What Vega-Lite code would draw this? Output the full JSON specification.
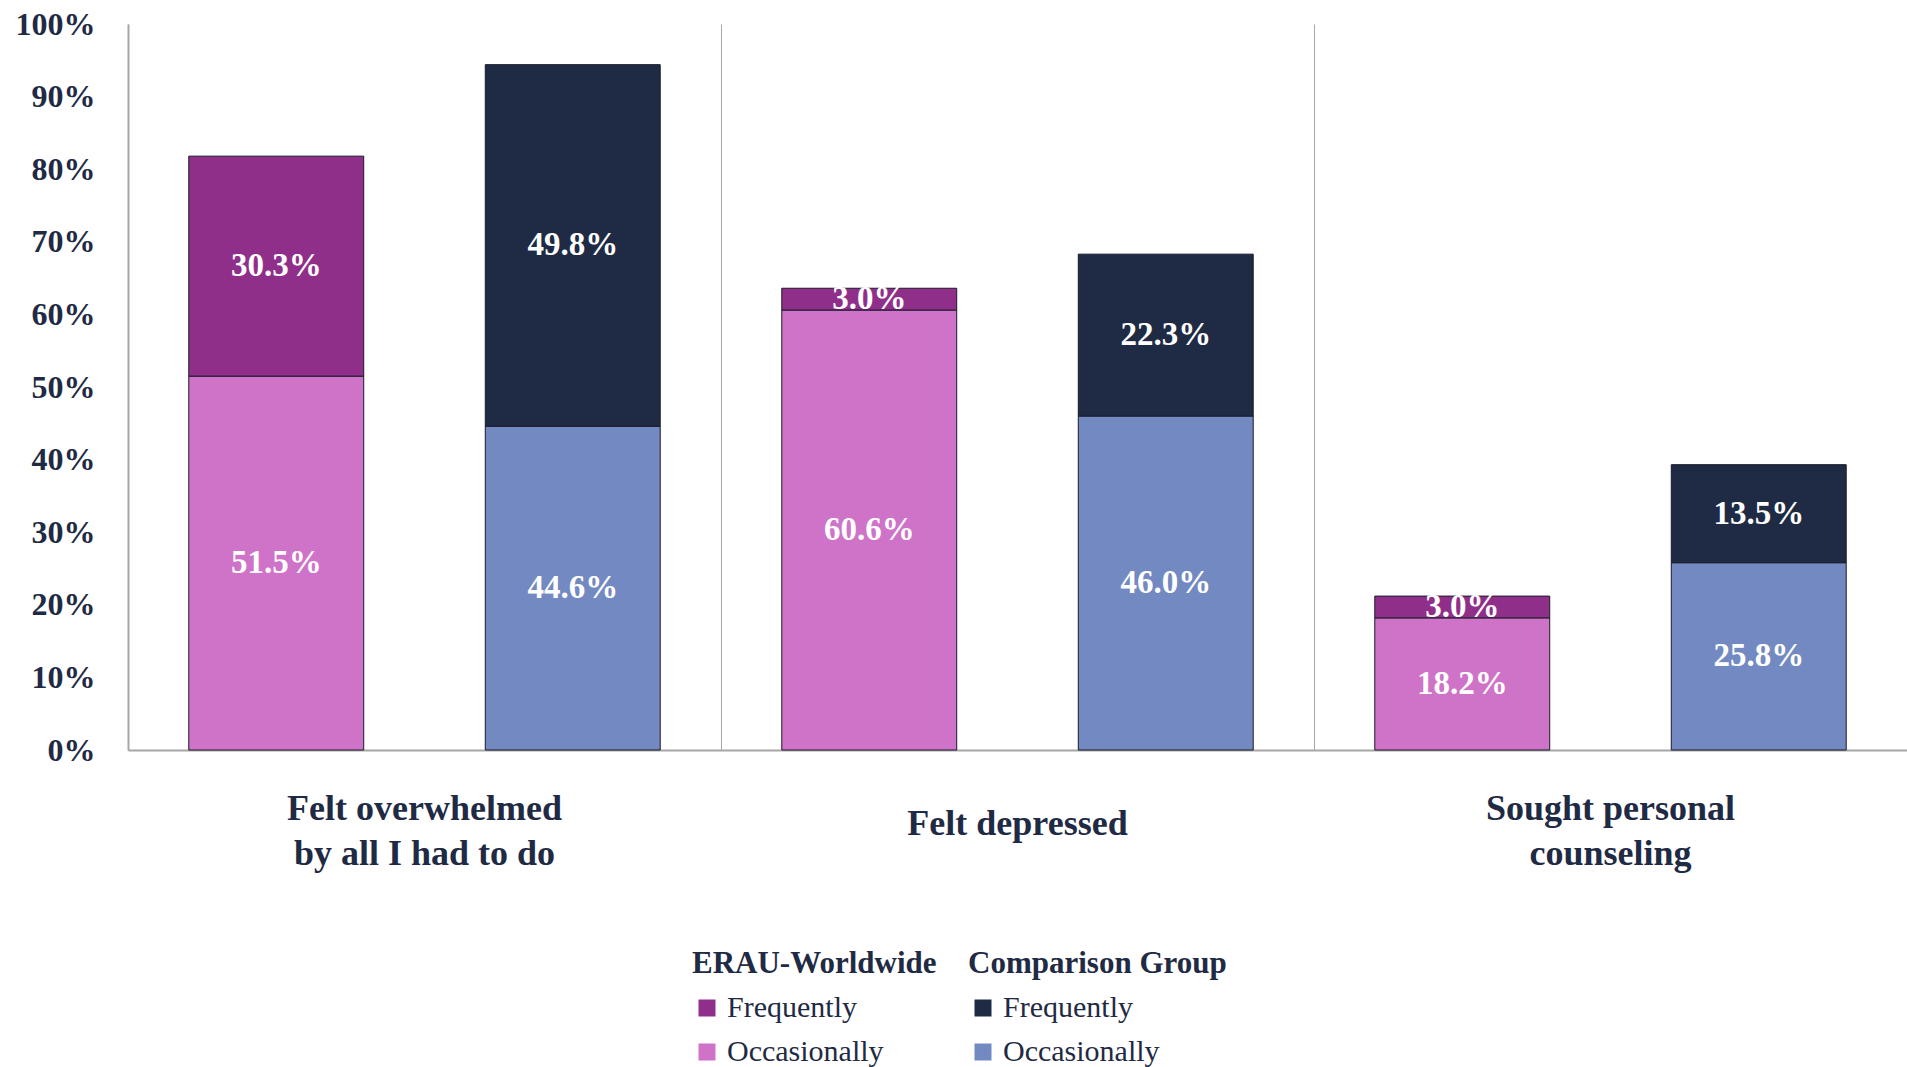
{
  "$schema": "https://vega.github.io/schema/vega-lite/v6.json",
  "width": 1779,
  "height": 726,
  "autosize": {"type": "none"},
  "padding": {"left": 128, "top": 24, "right": 0, "bottom": 317},
  "background": "white",
  "config": {
    "view": {"stroke": null},
    "font": "Liberation Serif",
    "axis": {"labelColor": "#1F2A44", "titleColor": "#1F2A44"},
    "legend": {"labelColor": "#1F2A44", "titleColor": "#1F2A44"}
  },
  "data": {
    "values": [
      {"cat": "Felt overwhelmed by all I had to do", "group": "ERAU-Worldwide", "level": "Occasionally", "series": "ERAU-Worldwide | Occasionally", "value": 0.515},
      {"cat": "Felt overwhelmed by all I had to do", "group": "ERAU-Worldwide", "level": "Frequently", "series": "ERAU-Worldwide | Frequently", "value": 0.303},
      {"cat": "Felt overwhelmed by all I had to do", "group": "Comparison Group", "level": "Occasionally", "series": "Comparison Group | Occasionally", "value": 0.446},
      {"cat": "Felt overwhelmed by all I had to do", "group": "Comparison Group", "level": "Frequently", "series": "Comparison Group | Frequently", "value": 0.498},
      {"cat": "Felt depressed", "group": "ERAU-Worldwide", "level": "Occasionally", "series": "ERAU-Worldwide | Occasionally", "value": 0.606},
      {"cat": "Felt depressed", "group": "ERAU-Worldwide", "level": "Frequently", "series": "ERAU-Worldwide | Frequently", "value": 0.030},
      {"cat": "Felt depressed", "group": "Comparison Group", "level": "Occasionally", "series": "Comparison Group | Occasionally", "value": 0.460},
      {"cat": "Felt depressed", "group": "Comparison Group", "level": "Frequently", "series": "Comparison Group | Frequently", "value": 0.223},
      {"cat": "Sought personal counseling", "group": "ERAU-Worldwide", "level": "Occasionally", "series": "ERAU-Worldwide | Occasionally", "value": 0.182},
      {"cat": "Sought personal counseling", "group": "ERAU-Worldwide", "level": "Frequently", "series": "ERAU-Worldwide | Frequently", "value": 0.030},
      {"cat": "Sought personal counseling", "group": "Comparison Group", "level": "Occasionally", "series": "Comparison Group | Occasionally", "value": 0.258},
      {"cat": "Sought personal counseling", "group": "Comparison Group", "level": "Frequently", "series": "Comparison Group | Frequently", "value": 0.135}
    ]
  },
  "transform": [
    {"stack": "value", "groupby": ["cat", "group"], "sort": [{"field": "level", "order": "descending"}], "as": ["y0", "y1"]},
    {"calculate": "(datum.y0 + datum.y1) / 2", "as": "ymid"}
  ],
  "encoding": {
    "x": {
      "field": "cat", "type": "nominal", "sort": null, "title": null,
      "scale": {"paddingInner": 0, "paddingOuter": 0},
      "axis": {
        "labelAngle": 0, "ticks": false, "tickSize": 0, "domainColor": "#A6A6A6", "domainWidth": 2,
        "grid": true, "gridColor": "#A6A6A6", "gridWidth": 1, "bandPosition": 0,
        "labelFontSize": 36, "labelFontWeight": "bold", "labelLineHeight": 45, "labelLimit": 0,
        "labelBaseline": "middle",
        "labelPadding": {"condition": {"test": "datum.value == 'Felt depressed'", "value": 73}, "value": 58},
        "labelExpr": "datum.value == 'Felt overwhelmed by all I had to do' ? ['Felt overwhelmed', 'by all I had to do'] : datum.value == 'Sought personal counseling' ? ['Sought personal', 'counseling'] : datum.value"
      }
    },
    "xOffset": {
      "field": "group", "type": "nominal",
      "scale": {"domain": ["ERAU-Worldwide", "Comparison Group"], "paddingInner": 0.41, "paddingOuter": 0.205}
    }
  },
  "layer": [
    {
      "transform": [{"filter": "datum.group == 'ERAU-Worldwide'"}],
      "mark": {"type": "bar", "stroke": "#1a1a2a", "strokeWidth": 1},
      "encoding": {
        "y": {
          "field": "y0", "type": "quantitative", "title": null,
          "scale": {"domain": [0, 1]},
          "axis": {
            "values": [0, 0.1, 0.2, 0.3, 0.4, 0.5, 0.6, 0.7, 0.8, 0.9, 1.0],
            "format": ".0%", "ticks": false, "grid": false, "domainColor": "#A6A6A6", "domainWidth": 2,
            "labelFontSize": 32, "labelFontWeight": "bold", "labelPadding": 33
          }
        },
        "y2": {"field": "y1"},
        "color": {
          "field": "series", "type": "nominal",
          "scale": {"domain": ["ERAU-Worldwide | Frequently", "ERAU-Worldwide | Occasionally"], "range": ["#8F2F8A", "#CF73C9"]},
          "legend": {
            "title": "ERAU-Worldwide", "orient": "none", "legendX": 564, "legendY": 925,
            "direction": "vertical", "symbolType": "square", "symbolSize": 289, "symbolStrokeWidth": 0,
            "titleFontSize": 31, "titleFontWeight": "bold", "titlePadding": 13, "titleLimit": 0,
            "labelFontSize": 30, "labelFontWeight": "normal", "labelOffset": 5, "rowPadding": 14, "labelLimit": 0,
            "labelExpr": "split(datum.label, ' | ')[1]"
          }
        }
      }
    },
    {
      "transform": [{"filter": "datum.group == 'Comparison Group'"}],
      "mark": {"type": "bar", "stroke": "#1a1a2a", "strokeWidth": 1},
      "encoding": {
        "y": {"field": "y0", "type": "quantitative"},
        "y2": {"field": "y1"},
        "fill": {
          "field": "series", "type": "nominal",
          "scale": {"domain": ["Comparison Group | Frequently", "Comparison Group | Occasionally"], "range": ["#1F2A44", "#7389C1"]},
          "legend": {
            "title": "Comparison Group", "orient": "none", "legendX": 840, "legendY": 925,
            "direction": "vertical", "symbolType": "square", "symbolSize": 289, "symbolStrokeWidth": 0,
            "titleFontSize": 31, "titleFontWeight": "bold", "titlePadding": 13, "titleLimit": 0,
            "labelFontSize": 30, "labelFontWeight": "normal", "labelOffset": 5, "rowPadding": 14, "labelLimit": 0,
            "labelExpr": "split(datum.label, ' | ')[1]"
          }
        }
      }
    },
    {
      "mark": {"type": "text", "color": "white", "fontSize": 33, "fontWeight": "bold", "baseline": "middle", "align": "center"},
      "encoding": {
        "y": {"field": "ymid", "type": "quantitative"},
        "text": {"field": "value", "type": "quantitative", "format": ".1%"}
      }
    }
  ]
}
